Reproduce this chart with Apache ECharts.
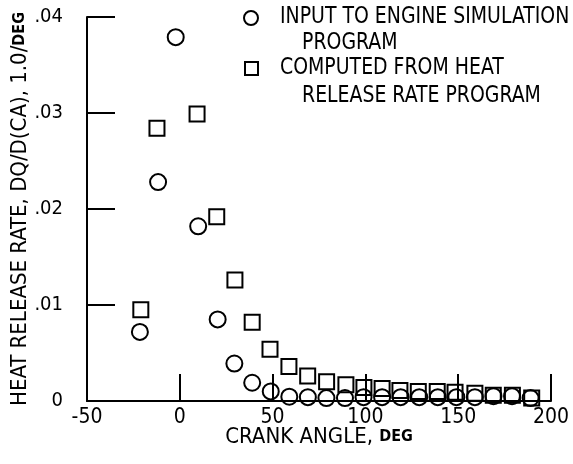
<!DOCTYPE html>
<html><head><meta charset="utf-8">
<script src="https://cdn.jsdelivr.net/npm/echarts@6/dist/echarts.min.js"></script>
<style>html,body{margin:0;padding:0;background:#fff}#c{width:573px;height:464px}</style>
</head><body><div id="c"></div>
<script>
var FONT = "'DejaVu Sans Condensed',sans-serif";
var inputAngles = [-21.5, -11.7, -2.2, 9.9, 20.4, 29.4, 39, 49, 59, 69, 79, 89, 99, 109, 119, 129, 139, 149, 159, 169, 179, 189];
var inputValues = [0.0072, 0.0228, 0.0379, 0.0182, 0.0085, 0.0039, 0.0019, 0.001, 0.00045, 0.0004, 0.0003, 0.0003, 0.0004, 0.0004, 0.0004, 0.0004, 0.0004, 0.0004, 0.0004, 0.0005, 0.0005, 0.0003];
var computedAngles = [-21, -12.3, 9.3, 19.9, 29.7, 39, 48.6, 58.8, 68.9, 79.1, 89.5, 99.2, 109, 118.6, 128.5, 138.7, 148.3, 159, 168.9, 179.2, 189.6];
var computedValues = [0.0095, 0.0284, 0.0299, 0.0192, 0.0126, 0.0082, 0.0054, 0.0036, 0.0026, 0.002, 0.0017, 0.0014, 0.0013, 0.0011, 0.0010, 0.0010, 0.0009, 0.0008, 0.0006, 0.0006, 0.0003];
var xTicks = [-50, 200, 50];
var yTickLabels = {0: '0', 0.01: '.01', 0.02: '.02', 0.03: '.03', 0.04: '.04'};
var legendLines = [['INPUT TO ENGINE SIMULATION', 'PROGRAM'], ['COMPUTED FROM HEAT', 'RELEASE RATE PROGRAM']];

function pairs(xs, ys){ return xs.map(function(x,i){return [x, ys[i]];}); }
var chart = echarts.init(document.getElementById('c'));
var axisLine = {show:true, onZero:false, lineStyle:{color:'#000', width:2}};
var rich = {a:{fontFamily:FONT, fontSize:22, color:'#000'}, b:{fontFamily:FONT, fontSize:16, color:'#000', fontWeight:'bold'}};
chart.setOption({
  animation:false,
  backgroundColor:'#fff',
  grid:{left:87, right:22, top:17, bottom:63, outerBoundsMode:'none', containLabel:false},
  xAxis:{type:'value', min:xTicks[0], max:xTicks[1], interval:xTicks[2],
    axisLine:axisLine,
    axisTick:{show:true, inside:true, length:27, lineStyle:{color:'#000', width:2}},
    splitLine:{show:false},
    axisLabel:{color:'#000', fontFamily:FONT, fontSize:21, margin:6},
    name:'{a|CRANK ANGLE, }{b|DEG}', nameLocation:'middle', nameGap:25, nameMoveOverlap:false,
    nameTextStyle:{rich:rich}
  },
  yAxis:{type:'value', min:0, max:0.04, interval:0.01,
    axisLine:axisLine,
    axisTick:{show:true, inside:true, length:28, lineStyle:{color:'#000', width:2}},
    splitLine:{show:false},
    axisLabel:{color:'#000', fontFamily:FONT, fontSize:20, margin:24, formatter:function(v){return yTickLabels[Math.round(v*100)/100];}},
    name:'{a|HEAT RELEASE RATE, DQ/D(CA), 1.0/}{b|DEG}', nameLocation:'middle', nameGap:56, nameMoveOverlap:false,
    nameTextStyle:{rich:rich}
  },
  series:[
    {type:'scatter', name:legendLines[0].join(' '), data:pairs(inputAngles, inputValues), symbol:'circle', symbolSize:16,
      itemStyle:{color:'rgba(0,0,0,0)', borderColor:'#000', borderWidth:2, opacity:1}},
    {type:'scatter', name:legendLines[1].join(' '), data:pairs(computedAngles, computedValues), symbol:'rect', symbolSize:15,
      itemStyle:{color:'rgba(0,0,0,0)', borderColor:'#000', borderWidth:2, opacity:1}}
  ],
  graphic:[
    {type:'circle', shape:{cx:251, cy:18, r:7}, style:{fill:'none', stroke:'#000', lineWidth:2}},
    {type:'text', x:280, y:5, scaleY:1.12, style:{text:legendLines[0][0], font:'21px '+FONT, fill:'#000'}},
    {type:'text', x:302, y:31, scaleY:1.12, style:{text:legendLines[0][1], font:'21px '+FONT, fill:'#000'}},
    {type:'rect', shape:{x:245, y:62, width:13, height:13}, style:{fill:'none', stroke:'#000', lineWidth:2}},
    {type:'text', x:280, y:56, scaleY:1.12, style:{text:legendLines[1][0], font:'21px '+FONT, fill:'#000'}},
    {type:'text', x:302, y:84, scaleY:1.12, style:{text:legendLines[1][1], font:'21px '+FONT, fill:'#000'}}
  ]
});
</script></body></html>
